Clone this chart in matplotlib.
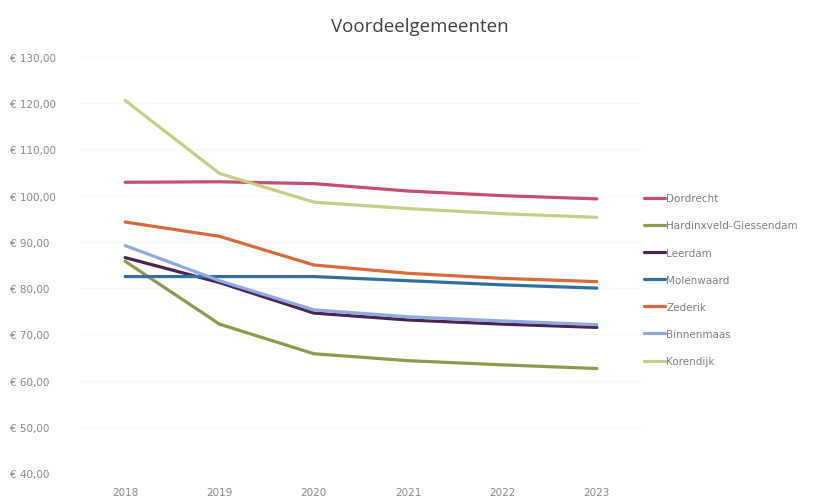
import matplotlib
matplotlib.use("Agg")
import matplotlib.pyplot as plt
from matplotlib.ticker import FuncFormatter

years = ["2018", "2019", "2020", "2021", "2022", "2023"]
dordrecht = [102.9, 103.0, 102.6, 101.0, 100.0, 99.3]
hardinxveld = [85.8, 72.2, 65.8, 64.3, 63.4, 62.6]
leerdam = [86.6, 81.2, 74.6, 73.1, 72.2, 71.5]
molenwaard = [82.5, 82.5, 82.5, 81.6, 80.7, 80.0]
zederik = [94.3, 91.2, 85.0, 83.2, 82.1, 81.4]
binnenmaas = [89.2, 81.6, 75.3, 73.8, 72.9, 72.1]
korendijk = [120.6, 104.8, 98.6, 97.2, 96.1, 95.3]

series = [
    ("Dordrecht", dordrecht, "#c94d70"),
    ("Hardinxveld-Giessendam", hardinxveld, "#8c9b4e"),
    ("Leerdam", leerdam, "#4b2553"),
    ("Molenwaard", molenwaard, "#2f6fa2"),
    ("Zederik", zederik, "#d96a3c"),
    ("Binnenmaas", binnenmaas, "#8fa9e2"),
    ("Korendijk", korendijk, "#c5cd86"),
]

fig = plt.figure(figsize=(8.24, 5.02), dpi=100)
ax = fig.add_axes([78/824, (502-474)/502, (644-78)/824, (474-58)/502])

x = list(range(len(years)))
handles = []
for name, vals, col in series:
    h, = ax.plot(x, vals, color=col, lw=2.3, label=name, solid_capstyle="round")
    handles.append(h)

ax.set_xlim(-0.5, 5.5)
ax.set_ylim(40, 130)
ax.set_yticks(range(40, 131, 10))
ax.yaxis.set_major_formatter(FuncFormatter(lambda v, p: f"€ {v:.2f}".replace(".", ",")))
ax.set_xticks(x)
ax.set_xticklabels(years)
ax.tick_params(axis="both", length=0, labelsize=7.5, labelcolor="#8a8a8a")
ax.tick_params(axis="x", pad=10)
ax.tick_params(axis="y", pad=49)
for lbl in ax.get_yticklabels():
    lbl.set_horizontalalignment("left")
ax.grid(axis="y", color="#f7f7f7", lw=0.8)
for s in ax.spines.values():
    s.set_visible(False)

fig.text(420/824, 1 - 27/502, "Voordeelgemeenten", ha="center", va="center",
         fontsize=13.5, color="#404040", family="Open Sans")

fig.legend(handles=handles, loc="upper left", bbox_to_anchor=(640/824, 1 - 190/502),
           frameon=False, fontsize=7.5, labelcolor="#808080", handlelength=2.0,
           handletextpad=0.1, labelspacing=1.65, borderaxespad=0)

fig.savefig("out.png", dpi=100)
